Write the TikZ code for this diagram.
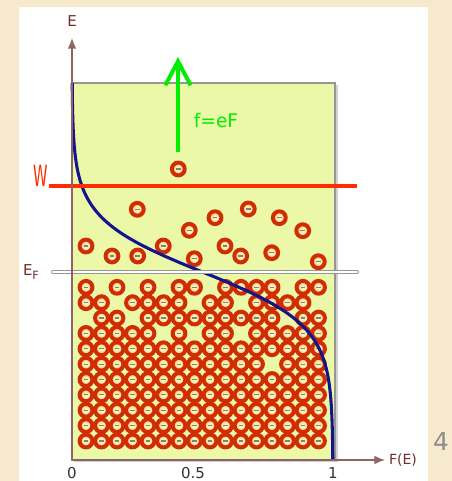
\documentclass[tikz,border=0pt]{standalone}
\usepackage{fontspec}
\setmainfont{DejaVu Sans}
\usetikzlibrary{arrows.meta,positioning}
\definecolor{FDparch}{RGB}{247,233,203}
\definecolor{FDbox}{RGB}{234,248,168}
\definecolor{FDframe}{RGB}{150,150,150}
\definecolor{FDaxis}{RGB}{145,100,100}
\definecolor{FDlabel}{RGB}{115,45,45}
\definecolor{FDring}{RGB}{208,45,5}
\definecolor{FDcore}{RGB}{255,250,210}
\definecolor{FDcoreout}{RGB}{248,212,120}
\definecolor{FDwork}{RGB}{255,45,0}
\definecolor{FDblue}{RGB}{20,20,140}
\definecolor{FDgreen}{RGB}{0,238,0}
\tikzset{
  elec/.style={circle,minimum size=9.6pt,inner sep=0pt,draw=FDring,line width=3pt,
               inner color=FDcore,outer color=FDcoreout,
               path picture={\draw[gray,line width=0.9pt]
                 ([xshift=-1.7pt]path picture bounding box.center) --
                 ([xshift=1.7pt]path picture bounding box.center);}},
  axis/.style={draw=FDaxis,line width=1.1pt,-{Latex[length=8pt,width=6.5pt]}},
  lbl/.style={text=FDlabel,inner sep=0pt,font=\fontsize{11.25}{13}\selectfont},
  tick/.style={text=black!80,inner sep=0pt,font=\fontsize{11.25}{13}\selectfont},
  fermi/.style={draw=FDblue,line width=2.3pt},
  workline/.style={draw=FDwork,line width=3.6pt},
  fermiline/.style={draw=FDframe,double=white,line width=0.7pt,double distance=1.6pt,line cap=round},
  force/.style={draw=FDgreen,line width=3.6pt,-{Straight Barb[length=18pt,width=19pt,line width=3pt]}},
}

\begin{document}
\begin{tikzpicture}[x=0.75pt,y=-0.75pt]
    \useasboundingbox (0,0) rectangle (452,481);
    \fill[FDparch] (0,0) rectangle (452,481);
    \fill[white] (19,7) rectangle (428,481);
    % the box
    \fill[black,opacity=0.18] (74,85) rectangle (338,462);
    \filldraw[fill=FDbox,draw=FDframe,line width=1pt] (72,83) rectangle (335,460);
    % filled states below E_F
    \foreach \r/\cols in {0/{0,2,4,6,7,9,10,11,12,14,15},
                          1/{0,1,3,4,5,6,8,9,11,12,13,14},
                          2/{1,2,4,5,6,7,8,9,10,11,12,14,15},
                          3/{0,1,2,3,4,6,8,9,11,12,13,14,15},
                          4/{0,...,15},
                          5/{0,...,11,13,14,15},
                          6/{0,...,15},7/{0,...,15},8/{0,...,15},
                          9/{0,...,15},10/{0,...,15}}
      \foreach \c in \cols
        \node[elec] (g\r-\c) at ({86+15.5*\c},{287.3+15.37*\r}) {};
    % excited electrons
    \foreach \x/\y [count=\i] in {178.3/169,137.3/209.3,189.3/230.3,215/217.7,
                                  86/246,112/256,137.7/256,163.3/246,194.3/258.7,
                                  248.3/209,279.3/217.7,302.7/230.7,225/246,
                                  240.7/256,271.7/252.7,318.3/261.7}
      \node[elec] (s\i) at (\x,\y) {};
    % Fermi-Dirac distribution
    \draw[fermi] plot[domain=83:460,samples=160,variable=\e]
      ({72+261/(1+exp((272-\e)/26.6))},\e);
    \coordinate (Wl) at (49,186);
    \coordinate (Wr) at (357,186);
    \draw[workline] (Wl) -- (Wr);
    \coordinate (EFl) at (53,272);
    \coordinate (EFr) at (357,272);
    \draw[fermiline] (EFl) -- (EFr);
    % axes
    \coordinate (O) at (72,460);
    \coordinate (Etop) at (72,38);
    \coordinate (Fend) at (385,460);
    \draw[axis] (O) -- (Etop);
    \draw[axis] (O) -- (Fend);
    \coordinate (fbot) at (178,152);
    \coordinate (ftop) at (178,57);
    \draw[force] (fbot) -- (ftop);
    \node[lbl] (Elab) at (72,21) {E};
    \node[lbl] (EFlab) at (31,272) {E\raisebox{-0.55ex}{\fontsize{8.5}{9}\selectfont F}};
    \node[text=FDwork,inner sep=0pt,font=\fontsize{22}{24}\selectfont] (Wlab) at (41,176) {\scalebox{0.5}[1]{W}};
    \node[lbl,font=\fontsize{10.5}{12}\selectfont] (FElab) at (403,460) {F(E)};
    \node[tick] (t0) at (72,473) {0};
    \node[tick] (t5) at (193,473) {0.5};
    \node[tick] (t1) at (333,473) {1};
    \node[text=FDgreen,inner sep=0pt,font=\fontsize{14}{16}\selectfont] (flab) at (216,121) {f=eF};
    \node[text=black!45,inner sep=0pt,font=\fontsize{18.5}{20}\selectfont] (pg) at (441,442) {4};
  \end{tikzpicture}
\end{document}
